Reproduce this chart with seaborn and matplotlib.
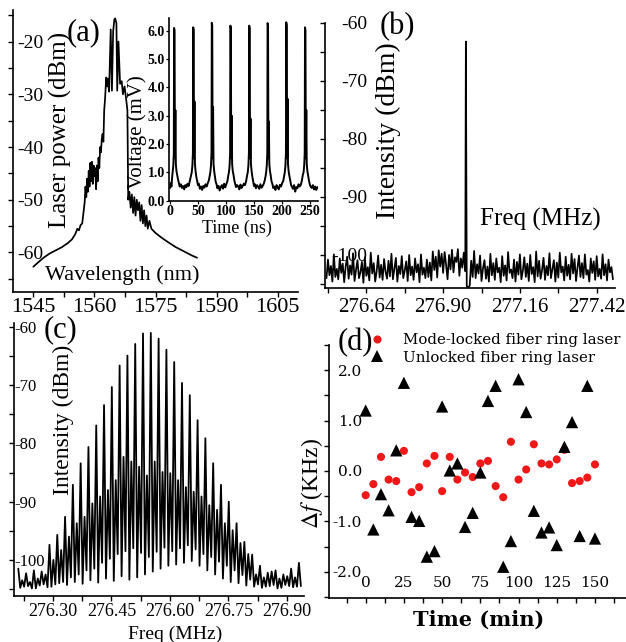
import numpy as np
import pandas as pd
import matplotlib
matplotlib.use('Agg')
import matplotlib.pyplot as plt
import seaborn as sns

# ---------------- data ----------------
# (a) optical spectrum
a_wl = [1545.0, 1546.0, 1547.5, 1549.0, 1550.5, 1552.0, 1553.5, 1554.5, 1555.3, 1555.8, 1556.2, 1556.6, 1557.0, 1557.3,
        1557.6, 1557.8, 1558.0, 1558.2, 1558.4, 1558.6, 1558.8, 1559.0, 1559.2, 1559.4, 1559.6, 1559.8, 1560.0, 1560.2,
        1560.4, 1560.6, 1560.8, 1561.0, 1561.2, 1561.4, 1561.6, 1561.8, 1562.0, 1562.2, 1562.4, 1562.6, 1562.9, 1563.1,
        1563.3, 1563.6, 1564.0, 1564.3, 1564.6, 1564.9, 1565.1, 1565.4, 1565.6, 1565.9, 1566.3, 1566.7, 1567.0, 1567.4,
        1567.8, 1568.1, 1568.3, 1568.6, 1568.9, 1569.2, 1569.5, 1569.8, 1570.1, 1570.4, 1570.7, 1571.0, 1571.3, 1571.6,
        1571.9, 1572.2, 1572.5, 1572.8, 1573.1, 1573.5, 1574.0, 1575.0, 1576.5, 1578.0, 1580.0, 1582.0, 1584.0, 1585.2]
a_pow = [-62.7, -62.0, -61.0, -60.2, -59.6, -59.0, -58.2, -57.5, -56.5, -55.5, -55.8, -54.8, -54.5, -52.5,
         -50.5, -47.5, -49.5, -46.0, -48.5, -44.5, -47.5, -43.0, -46.5, -42.8, -47.0, -43.5, -45.5, -44.0,
         -48.0, -43.5, -46.5, -42.0, -44.0, -40.0, -41.0, -38.5, -37.5, -39.0, -33.0, -31.0, -26.8, -28.5,
         -27.0, -29.5, -17.7, -29.3, -18.0, -15.8, -15.6, -16.5, -29.3, -20.0, -28.0, -27.5, -30.0, -28.5,
         -31.0, -33.0, -50.0, -48.5, -51.5, -49.0, -52.5, -49.5, -53.0, -50.0, -52.0, -50.5, -54.0, -51.0,
         -54.5, -52.0, -55.0, -53.0, -55.5, -54.0, -55.5, -56.3, -57.2, -58.0, -59.0, -59.8, -60.6, -61.0]

# (a) inset: pulse train
in_head_t = [0.0, 1.2, 2.4, 3.4]
in_head_v = [0.45, 0.62, 0.50, 0.78]
in_pulse_t = [7.1, 41.2, 74.4, 107.6, 141.2, 174.0, 207.3, 240.8]
in_pulse_peak = [6.10, 6.12, 6.28, 6.18, 6.18, 6.27, 6.30, 6.12]
in_pulse_top2 = [6.00, 6.02, 6.18, 6.08, 6.08, 6.17, 6.20, 6.02]
in_echo_peak = [3.2, 3.5, 3.3, 3.0, 2.9, 2.8, 3.6, 3.2]
in_pre_dt = [-2.6, -1.4, -0.5]
in_pre_v = [1.0, 1.25, 1.7]
in_post_dt = [1.5, 3.1, 4.2]
in_post_v = [1.5, 1.3, 1.05]
in_tail_dt = [5.5, 7.0, 8.5, 10, 12, 14, 16, 18, 20, 22, 24, 26, 28, 29.5]
in_tails = [
    [0.90, 0.75, 0.62, 0.50, 0.58, 0.45, 0.52, 0.40, 0.55, 0.48, 0.60, 0.52, 0.70, 0.85],
    [0.85, 0.70, 0.55, 0.60, 0.42, 0.50, 0.38, 0.52, 0.46, 0.58, 0.50, 0.62, 0.72, 0.88],
    [0.88, 0.66, 0.58, 0.44, 0.52, 0.36, 0.48, 0.55, 0.42, 0.60, 0.47, 0.58, 0.70, 0.90],
    [0.92, 0.72, 0.60, 0.48, 0.55, 0.50, 0.40, 0.57, 0.45, 0.52, 0.60, 0.55, 0.68, 0.86],
    [0.86, 0.70, 0.52, 0.58, 0.44, 0.55, 0.50, 0.42, 0.58, 0.46, 0.52, 0.60, 0.74, 0.90],
    [0.90, 0.68, 0.60, 0.45, 0.50, 0.38, 0.55, 0.47, 0.40, 0.56, 0.50, 0.62, 0.70, 0.88],
    [0.88, 0.74, 0.56, 0.50, 0.42, 0.55, 0.32, 0.48, 0.44, 0.58, 0.50, 0.56, 0.72, 0.90],
    [0.90, 0.72, 0.58, 0.50, 0.45, 0.55, 0.40, 0.50, 0.38, 0.48, 0.44, 0.52, 0.50, 0.46],
]

# (b) RF spectrum of mode-locked laser
b_spike_freq = 276.977
b_spike_level = -63.2
b_noise_left = [
    -104.0, -100.8, -103.5, -101.9, -104.6, -99.9, -103.8, -102.4, -104.2, -100.6, -103.1, -101.5, -104.7, -102.0,
    -100.3, -104.1, -101.8, -103.4, -99.7, -104.5, -102.6, -100.9, -104.0, -103.0, -101.2, -104.8, -100.4, -103.6,
    -102.1, -104.4, -99.6, -103.2, -101.4, -104.6, -102.8, -100.1, -103.9, -101.7, -104.3, -100.7, -102.9, -104.1,
    -101.0, -103.7, -99.8, -104.2, -102.3, -100.5, -104.6, -101.9, -103.3, -100.2, -104.0, -102.7, -101.1, -104.5,
    -100.0, -103.5, -102.0, -104.3, -100.6, -103.0, -101.6, -104.7, -99.9, -103.4, -102.2, -104.0, -100.8, -103.8,
    -101.3, -104.4, -99.4, -102.6, -100.3, -103.9, -99.2, -102.0, -99.8, -103.1, -99.5, -101.7, -104.2, -100.0,
    -102.5, -99.1, -103.0, -100.4, -101.2, -99.0, -103.6, -100.6, -102.2, -99.6, -102.8]
b_noise_right = [
    -105.4, -105.6, -105.3, -101.0, -103.8, -99.3, -104.0, -101.6, -103.2, -100.1, -104.5, -102.3, -100.9, -104.1,
    -102.0, -104.6, -99.8, -103.5, -101.4, -104.3, -100.6, -103.0, -102.2, -104.7, -100.2, -103.6, -101.8, -104.4,
    -99.5, -103.1, -102.5, -104.0, -100.8, -104.6, -101.2, -103.4, -99.9, -104.2, -102.7, -100.4, -103.8, -101.5,
    -104.5, -100.0, -103.3, -102.1, -104.7, -99.4, -103.7, -101.0, -104.1, -102.6, -100.5, -104.3, -101.9, -103.5,
    -99.7, -104.0, -102.4, -100.9, -104.6, -101.3, -103.9, -99.6, -103.0, -102.0, -104.4, -100.3, -103.6, -101.7,
    -104.2, -99.8, -103.2, -100.7, -104.5, -102.2, -100.1, -103.8, -101.4, -104.0, -99.9, -103.4, -102.6, -104.6,
    -100.6, -103.1, -101.1, -104.3, -100.2, -103.7, -102.4, -104.1, -99.9, -103.5, -101.6, -104.4, -100.8, -103.0,
    -102.1, -104.2]

# (c) RF spectrum of unlocked laser (interleaved combs)
c_main_freq = [276.211, 276.231, 276.251, 276.271, 276.291, 276.311, 276.331, 276.351, 276.371, 276.391,
               276.411, 276.431, 276.451, 276.471, 276.491, 276.511, 276.531, 276.551, 276.571, 276.591,
               276.611, 276.631, 276.651, 276.671, 276.691, 276.711, 276.731, 276.751, 276.771, 276.791,
               276.811, 276.831, 276.851, 276.871, 276.891, 276.911, 276.931]
c_main_peak = [-101.5, -102.3, -101.8, -102.0, -97.4, -95.7, -92.6, -87.1, -83.4, -80.6,
               -76.9, -73.4, -70.3, -66.6, -64.9, -62.9, -61.1, -61.0, -62.0, -63.9,
               -66.0, -69.6, -71.7, -76.0, -79.1, -83.4, -87.1, -90.0, -93.7, -96.9,
               -99.1, -101.0, -102.2, -101.8, -102.5, -101.5, -100.5]
c_sec_peak = [-103.5, -103.8, -103.2, -102.5, -100.0, -98.3, -96.0, -93.7, -92.6, -90.3,
              -89.1, -88.0, -86.3, -82.3, -83.1, -84.0, -85.5, -83.1, -84.9, -85.1,
              -86.3, -87.5, -88.3, -89.1, -90.6, -91.4, -93.7, -94.9, -97.1, -99.0,
              -102.5, -103.0, -102.0, -103.2, -102.8, -103.0]
c_trough_a = [-104.8, -104.5, -104.9, -104.2, -104.6, -104.0, -104.3, -103.8, -104.1, -103.5,
              -103.9, -103.2, -103.6, -102.8, -103.4, -103.0, -102.5, -102.0, -101.5, -101.0,
              -100.8, -100.5, -100.2, -101.0, -101.8, -102.5, -103.2, -103.8, -104.0, -104.4,
              -104.6, -104.8, -104.5, -104.9, -104.3, -104.7, -104.5]
c_trough_b = [-104.6, -104.9, -104.4, -104.7, -104.2, -103.8, -103.0, -102.5, -101.8, -101.5,
              -100.5, -99.8, -99.0, -98.5, -98.0, -98.8, -99.5, -98.6, -97.9, -98.5,
              -98.0, -97.5, -98.2, -99.0, -99.5, -100.3, -101.0, -101.8, -102.6, -103.4,
              -104.2, -104.6, -104.3, -104.8, -104.5, -104.6]

# (d) frequency drift
d_time = [0, 5, 10, 15, 20, 25, 30, 35, 40, 45, 50, 55, 60, 65, 70, 75, 80, 85, 90, 95,
          100, 105, 110, 115, 120, 125, 130, 135, 140, 145, 150]
d_locked = [-0.48, -0.26, 0.28, -0.17, -0.20, 0.40, -0.42, -0.32, 0.15, 0.30, -0.40, 0.28, -0.17, -0.03,
            -0.12, 0.15, 0.20, -0.30, -0.52, 0.58, -0.17, 0.03, 0.53, 0.15, 0.13, 0.23, 0.42, -0.24,
            -0.20, -0.13, 0.13]
d_unlocked = [1.20, -1.16, -0.46, -0.78, 0.41, 1.75, -0.91, -0.99, -1.70, -1.59, 1.28, 0.01, 0.15, -1.11,
              -0.83, -0.03, 1.39, 1.69, -1.90, -1.39, 1.82, 1.17, -0.79, -1.22, -1.12, -1.47, 0.48, 0.97,
              -1.29, 1.69, -1.34]
d_series = ['Mode-locked fiber ring laser', 'Unlocked fiber ring laser']

# ---------------- style ----------------
sns.set_style('ticks')
plt.rcParams['font.family'] = ['Liberation Serif', 'DejaVu Serif']
plt.rcParams['mathtext.fontset'] = 'stix'
plt.rcParams['axes.unicode_minus'] = False
for k in ['text.color', 'axes.labelcolor', 'xtick.color', 'ytick.color', 'axes.edgecolor']:
    plt.rcParams[k] = 'black'
plt.rcParams['axes.linewidth'] = 1.2

W, H = 626, 642
fig = plt.figure(figsize=(W / 100, H / 100), dpi=100)


def px_axes(left, top, right, bottom):
    return fig.add_axes([left / W, 1 - bottom / H, (right - left) / W, (bottom - top) / H])


def style(ax):
    ax.set_facecolor('none')
    for s in ['top', 'right']:
        ax.spines[s].set_visible(False)
    ax.tick_params(which='both', direction='out', length=3.5, width=1.0)


axA = px_axes(13, 10, 298, 292)
axB = px_axes(325, 23, 615, 288)
axC = px_axes(14, 323, 304, 596)
axD = px_axes(329, 345, 626, 597.5)
axI = px_axes(169, 18, 318, 200.7)
for ax in [axA, axB, axC, axD, axI]:
    style(ax)

LW = 1.25

# ---------------- (a) ----------------
sns.lineplot(x=a_wl, y=a_pow, sort=False, estimator=None, color='black', linewidth=LW, ax=axA)
axA.set_xlim(1540, 1610)
axA.set_ylim(-67.5, -14)
axA.tick_params(axis='y', which='major', pad=-25.1)
axA.tick_params(axis='x', which='major', pad=1)
axA.set_xticks([1545, 1560, 1575, 1590, 1605], ['1545', '1560', '1575', '1590', '1605'], fontsize=16)
axA.set_xticks([1552.5, 1567.5, 1582.5, 1597.5], minor=True)
axA.set_yticks([-20, -30, -40, -50, -60], ['-20', '-30', '-40', '-50', '-60'], fontsize=14)
axA.set_yticks([-15, -25, -35, -45, -55, -65], minor=True)
axA.set_xlabel('Wavelength (nm)', fontsize=16)
axA.xaxis.set_label_coords(0.382, 0.06)
axA.xaxis.label.set_va('center')
axA.set_ylabel('Laser power (dBm)', fontsize=18)
axA.yaxis.set_label_coords(0.165, 0.574)
axA.yaxis.label.set_va('center')
axA.text(0.249, 0.918, '(a)', transform=axA.transAxes, fontsize=22, ha='center', va='center')

# inset
in_t, in_v = list(in_head_t), list(in_head_v)
for k, tc in enumerate(in_pulse_t):
    in_t += [tc + d for d in in_pre_dt]
    in_v += in_pre_v
    in_t += [tc, tc + 0.8]
    in_v += [in_pulse_peak[k], in_pulse_top2[k]]
    in_t += [tc + in_post_dt[0], tc + 2.3, tc + in_post_dt[1], tc + in_post_dt[2]]
    in_v += [in_post_v[0], in_echo_peak[k], in_post_v[1], in_post_v[2]]
    in_t += [tc + d for d in in_tail_dt]
    in_v += in_tails[k]
sns.lineplot(x=in_t, y=in_v, sort=False, estimator=None, color='black', linewidth=1.4, ax=axI)
axI.set_xlim(-2, 264)
axI.set_ylim(0, 6.45)
axI.tick_params(which='both', length=2.5, width=0.9, pad=0.5)
axI.set_xticks([0, 50, 100, 150, 200, 250], ['0', '50', '100', '150', '200', '250'],
               fontsize=10, fontweight='bold')
axI.set_yticks([0, 1, 2, 3, 4, 5, 6], ['0.0', '1.0', '2.0', '3.0', '4.0', '5.0', '6.0'],
               fontsize=10, fontweight='bold')
axI.set_xlabel('Time (ns)', fontsize=13)
axI.xaxis.set_label_coords(0.456, -0.15)
axI.xaxis.label.set_va('center')
axI.set_ylabel('Voltage (mV)', fontsize=15)
axI.yaxis.set_label_coords(-0.215, 0.376)
axI.yaxis.label.set_va('center')

# ---------------- (b) ----------------
b_f = np.concatenate([np.linspace(276.505, 276.975, len(b_noise_left)), [b_spike_freq],
                      np.linspace(276.980, 277.475, len(b_noise_right))])
b_v = np.concatenate([b_noise_left, [b_spike_level], b_noise_right])
sns.lineplot(x=b_f, y=b_v, sort=False, estimator=None, color='black', linewidth=1.25, ax=axB)
axB.set_xlim(276.50, 277.482)
axB.set_ylim(-105.7, -60)
axB.tick_params(axis='y', which='major', pad=-33.7)
axB.tick_params(axis='x', which='major', pad=3.5)
axB.set_xticks([276.64, 276.90, 277.16, 277.42], ['276.64', '276.90', '277.16', '277.42'], fontsize=15)
axB.set_xticks([276.51, 276.77, 277.03, 277.29], minor=True)
axB.set_yticks([-60, -70, -80, -90, -100], ['-60', '-70', '-80', '-90', '-100'], fontsize=14)
axB.set_yticks([-65, -75, -85, -95, -105], minor=True)
axB.set_ylabel('Intensity (dBm)', fontsize=20)
axB.yaxis.set_label_coords(0.217, 0.592)
axB.yaxis.label.set_va('center')
axB.set_xlabel('Freq (MHz)', fontsize=18)
axB.xaxis.set_label_coords(0.741, 0.257)
axB.xaxis.label.set_va('center')
axB.text(0.248, 0.985, '(b)', transform=axB.transAxes, fontsize=22, ha='center', va='center')

# ---------------- (c) ----------------
c_f, c_v = [], []
for i, f in enumerate(c_main_freq):
    c_f += [f, f + 0.005]
    c_v += [c_main_peak[i], c_trough_a[i]]
    if i < len(c_sec_peak):
        c_f += [f + 0.010, f + 0.015]
        c_v += [c_sec_peak[i], c_trough_b[i]]
sns.lineplot(x=c_f, y=c_v, sort=False, estimator=None, color='black', linewidth=1.3, ax=axC)
axC.set_xlim(276.20, 276.944)
axC.set_ylim(-106.2, -59.3)
axC.tick_params(axis='y', which='major', pad=-4.0)
axC.tick_params(axis='x', which='major', pad=1.5)
axC.set_xticks([276.30, 276.45, 276.60, 276.75, 276.90], ['276.30', '276.45', '276.60', '276.75', '276.90'],
               fontsize=13)
axC.set_xticks([276.225, 276.375, 276.525, 276.675, 276.825], minor=True)
axC.set_yticks([-60, -70, -80, -90, -100], ['-60', '-70', '-80', '-90', '-100'], fontsize=12,
               horizontalalignment='left')
axC.set_yticks([-65, -75, -85, -95, -105], minor=True)
axC.set_ylabel('Intensity (dBm)', fontsize=17)
axC.yaxis.set_label_coords(0.169, 0.645)
axC.yaxis.label.set_va('center')
axC.set_xlabel('Freq (MHz)', fontsize=14)
axC.xaxis.set_label_coords(0.555, -0.14)
axC.xaxis.label.set_va('center')
axC.text(0.159, 0.974, '(c)', transform=axC.transAxes, fontsize=22, ha='center', va='center')

# ---------------- (d) ----------------
df_d = pd.DataFrame({
    'Time': d_time + d_time,
    'Df': d_locked + d_unlocked,
    'series': [d_series[0]] * len(d_time) + [d_series[1]] * len(d_time),
})
sns.scatterplot(data=df_d, x='Time', y='Df', hue='series', style='series', size='series',
                palette={d_series[0]: '#f01818', d_series[1]: 'black'},
                markers={d_series[0]: 'o', d_series[1]: '^'},
                sizes={d_series[0]: 34, d_series[1]: 78},
                linewidth=0, ax=axD)
axD.set_xlim(-24, 170.3)
axD.set_ylim(-2.51, 2.5)
axD.tick_params(axis='y', which='major', pad=-27.3)
axD.tick_params(axis='x', which='major', pad=-19)
axD.set_xticks([0, 25, 50, 75, 100, 125, 150], ['0', '25', '50', '75', '100', '125', '150'],
               fontsize=11, fontfamily='DejaVu Serif')
axD.set_xticks([-12.5, 12.5, 37.5, 62.5, 87.5, 112.5, 137.5, 162.5], minor=True)
axD.set_yticks([2, 1, 0, -1, -2], ['2.0', '1.0', '0.0', '-1.0', '-2.0'], fontsize=11, fontfamily='DejaVu Serif')
axD.set_yticks([2.5, 1.5, 0.5, -0.5, -1.5, -2.5], minor=True)
axD.set_xlabel('Time (min)', fontsize=15, fontfamily='DejaVu Serif', fontweight='bold')
axD.xaxis.set_label_coords(0.505, -0.089)
axD.xaxis.label.set_va('center')
axD.set_ylabel(r'$\Delta f$ (KHz)', fontsize=17)
axD.yaxis.set_label_coords(-0.057, 0.45)
axD.yaxis.label.set_va('center')
axD.text(0.0875, 1.008, '(d)', transform=axD.transAxes, fontsize=22, ha='center', va='center')
sns.move_legend(axD, 'upper left', bbox_to_anchor=(0.136, 1.047), frameon=False, title=None,
                prop={'family': 'DejaVu Serif', 'size': 10.8}, handlelength=1.0, handletextpad=1.23,
                borderpad=0, borderaxespad=0, labelspacing=0.24)

fig.savefig('out.png', dpi=100)
